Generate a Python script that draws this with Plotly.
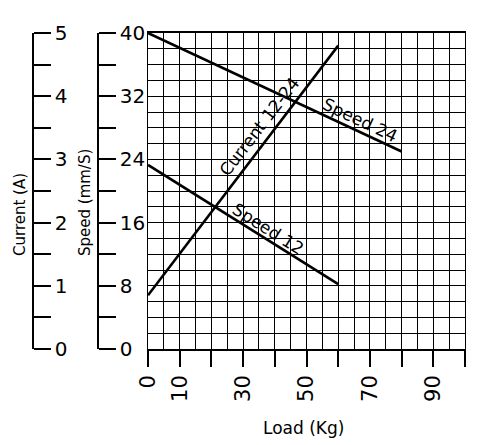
import plotly.graph_objects as go

# values
load_speed24 = [0, 80]
speed24 = [40, 25]
load_speed12 = [0, 60]
speed12 = [23.3, 8.2]
load_current = [0, 60]
current = [0.85, 4.8]

x_ticks = [0, 10, 20, 30, 40, 50, 60, 70, 80, 90, 100]
x_labels = ["0", "10", "", "30", "", "50", "", "70", "", "90", ""]
speed_ticks = [0, 4, 8, 12, 16, 20, 24, 28, 32, 36, 40]
speed_labels = ["0", "", "8", "", "16", "", "24", "", "32", "", "40"]
current_ticks = [0, 0.5, 1, 1.5, 2, 2.5, 3, 3.5, 4, 4.5, 5]
current_labels = ["0", "", "1", "", "2", "", "3", "", "4", "", "5"]

W, H = 495, 445
tick_font = dict(family="DejaVu Sans", size=20, color="black")
x_tick_font = dict(family="DejaVu Sans", size=21, color="black")
label_font = dict(family="DejaVu Sans", size=17, color="black")

fig = go.Figure()
line = dict(color="black", width=2.6)
fig.add_trace(go.Scatter(x=load_speed24, y=speed24, mode="lines", line=line, yaxis="y"))
fig.add_trace(go.Scatter(x=load_speed12, y=speed12, mode="lines", line=line, yaxis="y"))
fig.add_trace(go.Scatter(x=load_current, y=current, mode="lines", line=line, yaxis="y3"))
# empty trace so the speed scale (yaxis2) is drawn
fig.add_trace(go.Scatter(x=[None], y=[None], yaxis="y2", hoverinfo="skip"))

fig.update_layout(
    width=W, height=H,
    margin=dict(l=0, r=0, t=0, b=0),
    paper_bgcolor="white", plot_bgcolor="white",
    showlegend=False,
    xaxis=dict(domain=[148 / W, 465 / W], range=[0, 100], anchor="y", automargin=False,
               tickmode="array", tickvals=x_ticks, ticktext=x_labels,
               tickangle=-90, ticks="outside", ticklen=16, tickwidth=1.5, tickcolor="black",
               tickfont=x_tick_font, showline=True, linecolor="black", linewidth=1.5, mirror=True,
               showgrid=True, gridcolor="black", gridwidth=1, zeroline=False,
               minor=dict(dtick=5, tick0=0, showgrid=True, gridcolor="black", gridwidth=1, ticks="")),
    yaxis=dict(domain=[96 / H, 412 / H], range=[0, 40], showticklabels=False, automargin=False,
               dtick=2, showgrid=True, gridcolor="black", gridwidth=1, zeroline=False,
               showline=True, linecolor="black", linewidth=1, mirror=True, ticks=""),
    yaxis2=dict(overlaying="y", anchor="free", position=98 / W, side="right", range=[0, 40],
                automargin=False, autoshift=False,
                tickmode="array", tickvals=speed_ticks, ticktext=speed_labels,
                ticks="outside", ticklen=17, tickwidth=1.5, tickcolor="black", tickfont=tick_font,
                showline=True, linecolor="black", linewidth=1.5, showgrid=False, zeroline=False),
    yaxis3=dict(overlaying="y", anchor="free", position=33 / W, side="right", range=[0, 5],
                automargin=False, autoshift=False,
                tickmode="array", tickvals=current_ticks, ticktext=current_labels,
                ticks="outside", ticklen=17, tickwidth=1.5, tickcolor="black", tickfont=tick_font,
                showline=True, linecolor="black", linewidth=1.5, showgrid=False, zeroline=False),
)

title_font = dict(family="DejaVu Sans", size=15, color="black")
fig.add_annotation(text="Current (A)", xref="paper", yref="paper", x=20 / W, y=1 - 215 / H,
                   xanchor="center", yanchor="middle",
                   textangle=-90, showarrow=False, font=title_font)
fig.add_annotation(text="Speed (mm/S)", xref="paper", yref="paper", x=85 / W, y=1 - 203 / H,
                   xanchor="center", yanchor="middle",
                   textangle=-90, showarrow=False, font=title_font)
fig.add_annotation(text="Load (Kg)", xref="paper", yref="paper", x=303 / W, y=1 - 428 / H,
                   xanchor="center", yanchor="middle",
                   showarrow=False, font=dict(family="DejaVu Sans", size=17, color="black"))

# labels sitting on the lines
fig.add_annotation(text="Current 12-24", x=35.3, y=28.2, xref="x", yref="y",
                   xanchor="center", yanchor="middle",
                   textangle=-52.5, showarrow=False, font=label_font)
fig.add_annotation(text="Speed 24", x=66.9, y=29.0, xref="x", yref="y",
                   xanchor="center", yanchor="middle",
                   textangle=25.2, showarrow=False, font=label_font)
fig.add_annotation(text="Speed 12", x=38, y=15.2, xref="x", yref="y",
                   xanchor="center", yanchor="middle",
                   textangle=32.3, showarrow=False, font=label_font)

fig.write_html("out.html", config={"displayModeBar": False},
               post_script="document.body.style.margin='0';")
